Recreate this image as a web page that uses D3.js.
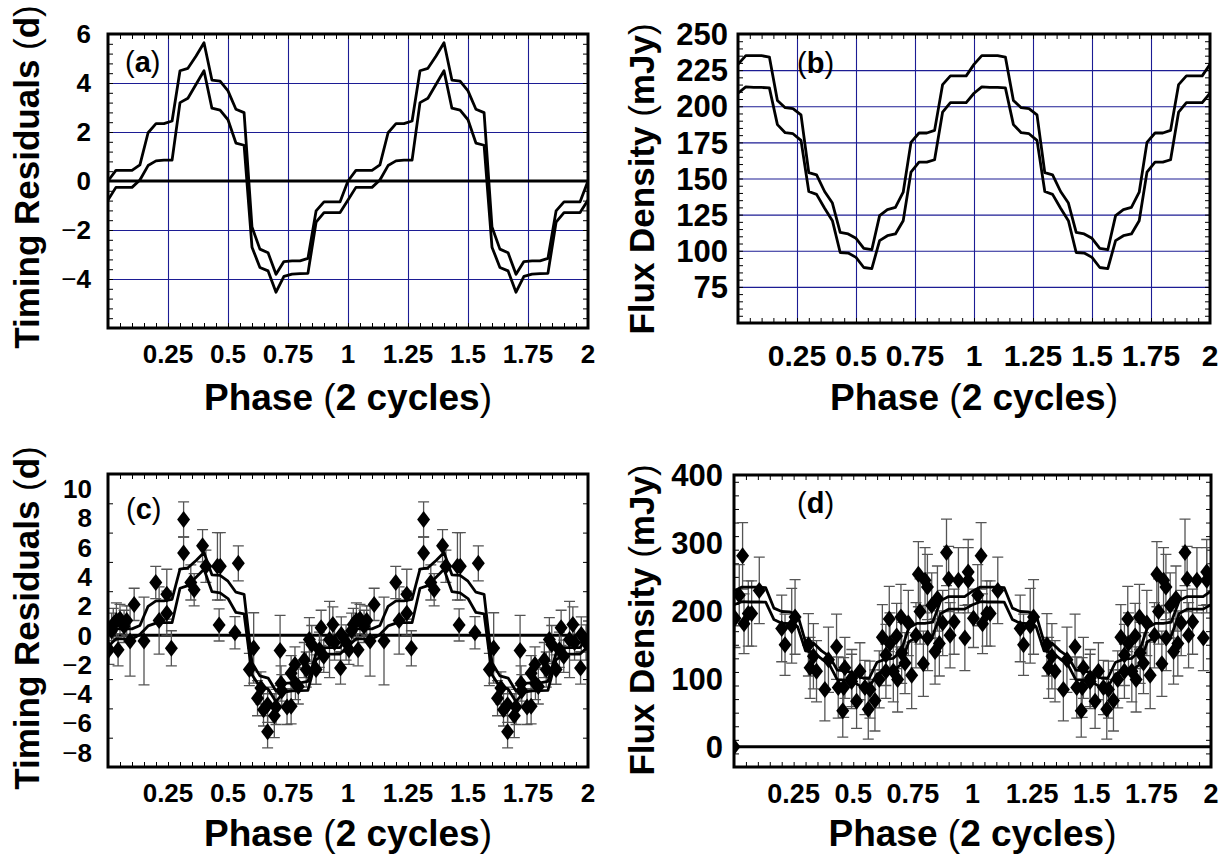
<!DOCTYPE html>
<html>
<head>
<meta charset="utf-8">
<script src="https://cdn.jsdelivr.net/npm/d3@7"></script>
<style>
  body { margin: 0; background: #fff; }
  text { font-family: "Liberation Sans", Arial, sans-serif; font-weight: bold; fill: #000; }
  .domain { display: none; }
</style>
</head>
<body>
<svg id="fig" width="1221" height="856"></svg>
<script>
// model curves, one cycle (drawn twice)
const modelPhase = [0, 0.033, 0.067, 0.1, 0.133, 0.167, 0.2, 0.233, 0.267, 0.3, 0.333,
  0.367, 0.4, 0.433, 0.467, 0.5, 0.533, 0.567, 0.6, 0.633, 0.667, 0.7, 0.733, 0.767,
  0.8, 0.833, 0.867, 0.9, 0.933, 0.967, 1.0];
const timingUpper = [0.0, 0.43, 0.43, 0.43, 0.66, 1.97, 2.34, 2.34, 2.45, 4.5, 4.6,
  5.1, 5.64, 4.12, 4.08, 3.68, 2.93, 2.79, -1.88, -2.78, -2.93, -3.81, -3.29, -3.26,
  -3.26, -3.16, -1.22, -0.85, -0.85, -0.85, 0.0];
const timingLower = [-0.78, -0.26, -0.26, -0.26, 0.04, 0.63, 0.82, 0.85, 0.85, 3.2, 3.38,
  3.95, 4.5, 2.97, 2.89, 2.5, 1.55, 1.46, -2.7, -3.53, -3.67, -4.54, -3.89, -3.8,
  -3.78, -3.77, -1.68, -1.29, -1.29, -1.29, -0.78];
const fluxUpper = [229, 235, 235, 235, 234, 204, 199, 198.4, 194, 154, 152.5,
  141, 133, 112.7, 111.6, 108.6, 101.6, 100.7, 124.3, 128.5, 130, 140.5, 175, 181.5,
  181.5, 183.3, 215, 221, 221, 221, 229];
const fluxLower = [209, 213.4, 213, 213, 212.7, 187.3, 181.7, 181, 176.4, 141, 139,
  129.4, 120.8, 98.8, 98.4, 95.4, 88.4, 87.7, 107, 110.4, 111.6, 120.8, 154.4, 161.3,
  161.3, 163, 196, 202.5, 202.5, 202.5, 209];

// observed timing residuals, one cycle
const timingObsPhase = [0.004, 0.015, 0.022, 0.035, 0.042, 0.05, 0.067, 0.078, 0.092, 0.109,
  0.15, 0.199, 0.213, 0.245, 0.245, 0.264, 0.315, 0.315, 0.345, 0.359,
  0.394, 0.408, 0.456, 0.468, 0.463, 0.529, 0.543, 0.589, 0.607, 0.623,
  0.637, 0.648, 0.665, 0.665, 0.693, 0.7, 0.717, 0.721, 0.724, 0.746,
  0.763, 0.763, 0.779, 0.781, 0.793, 0.818, 0.826, 0.839, 0.849, 0.867,
  0.881, 0.888, 0.899, 0.923, 0.937, 0.944, 0.969, 0.972, 0.992];
const timingObsValue = [-1.0, 0.3, 0.73, 1.0, -1.0, 1.1, 0.6, 1.0, -0.4, 2.1,
  -0.4, 3.6, 1.0, 2.8, 1.5, -0.9, 7.9, 5.6, 3.6, 3.1,
  6.1, 4.7, 4.7, 4.7, 0.7, 0.16, 4.9, -2.35, -0.87, -4.3,
  -3.6, -5.1, -4.75, -6.6, -5.5, -4.9, -1.05, -3.3, -3.8, -4.9,
  -4.86, -2.6, -2.0, -3.3, -3.5, -1.7, -2.35, -0.3, -0.64, -2.35,
  -1.0, 0.5, -1.44, -0.3, 0.73, -0.5, -2.24, 0.05, -0.5];
const timingObsErr = [1.0, 1.2, 1.1, 1.2, 1.1, 1.0, 1.1, 1.0, 2.4, 1.1,
  3.0, 1.1, 2.3, 1.7, 1.5, 1.2, 1.2, 1.1, 1.2, 1.1,
  1.1, 1.1, 2.3, 2.3, 1.1, 1.1, 1.2, 1.1, 2.4, 1.2,
  1.1, 1.1, 1.2, 1.1, 1.5, 1.2, 2.4, 1.2, 1.1, 1.2,
  1.2, 1.2, 1.2, 1.1, 1.2, 1.2, 1.2, 1.5, 1.3, 1.0,
  1.2, 1.2, 1.1, 2.6, 1.2, 1.2, 1.1, 1.2, 1.2];

// observed flux density, one cycle
const fluxObsPhase = [0.004, 0.022, 0.036, 0.042, 0.06, 0.074, 0.106, 0.2, 0.214, 0.242,
  0.256, 0.312, 0.319, 0.333, 0.346, 0.381, 0.396, 0.43, 0.437, 0.456,
  0.46, 0.465, 0.493, 0.494, 0.514, 0.528, 0.549, 0.563, 0.57, 0.591,
  0.609, 0.622, 0.637, 0.637, 0.651, 0.654, 0.668, 0.682, 0.686, 0.7,
  0.703, 0.717, 0.731, 0.745, 0.763, 0.773, 0.78, 0.794, 0.801, 0.811,
  0.812, 0.829, 0.843, 0.853, 0.861, 0.875, 0.891, 0.9, 0.906, 0.923,
  0.941, 0.968, 0.982, 0.982];
const fluxObsValue = [189, 223, 281, 181, 196, 196, 230, 174, 150, 178,
  191, 150, 116, 133, 111, 84, 128, 147, 87, 53,
  87, 116, 96, 101, 67, 111, 87, 55, 84, 68,
  99, 161, 135, 111, 188, 152, 111, 163, 99, 191,
  138, 123, 182, 105, 164, 254, 199, 122, 245, 235,
  160, 208, 140, 218, 152, 182, 286, 247, 164, 184,
  245, 160, 257, 245];
const fluxObsErr = [43, 45, 49, 44, 48, 48, 49, 49, 45, 55,
  55, 46, 45, 48, 45, 46, 48, 48, 45, 39,
  44, 45, 40, 42, 40, 42, 40, 44, 42, 45,
  42, 48, 45, 40, 48, 45, 45, 48, 48, 48,
  45, 45, 48, 49, 48, 48, 48, 48, 48, 48,
  48, 48, 48, 48, 48, 48, 49, 48, 48, 48,
  48, 48, 48, 48];
const fluxEdgePoint = { phase: 0, value: 0 };

const phaseTicks = [0.25, 0.5, 0.75, 1, 1.25, 1.5, 1.75, 2];
const phaseTickLabels = ["0.25", "0.5", "0.75", "1", "1.25", "1.5", "1.75", "2"];
const ticksA = [6, 4, 2, 0, -2, -4];
const ticksB = [250, 225, 200, 175, 150, 125, 100, 75];
const ticksC = [10, 8, 6, 4, 2, 0, -2, -4, -6, -8];
const ticksD = [400, 300, 200, 100, 0];

const svg = d3.select("#fig");

// repeat a one-cycle series over two cycles
function twoCycles(phases, values) {
  const out = [];
  [0, 1].forEach(c => {
    phases.forEach((p, i) => {
      if (c === 1 && i === 0) return;
      out.push({ x: p + c, y: values[i] });
    });
  });
  return out;
}

function obsTwoCycles(phases, values, errs) {
  const out = [];
  [0, 1].forEach(c => phases.forEach((p, i) => out.push({ x: p + c, y: values[i], e: errs[i] })));
  return out;
}

function drawPanel(cfg) {
  const x = d3.scaleLinear().domain([0, 2]).range([cfg.left, cfg.right]);
  const y = d3.scaleLinear().domain(cfg.yDomain).range([cfg.bottom, cfg.top]);
  const w = cfg.right - cfg.left, h = cfg.bottom - cfg.top;
  const g = svg.append("g");

  const clipId = "clip-" + cfg.id;
  g.append("clipPath").attr("id", clipId).append("rect")
    .attr("x", cfg.left).attr("y", cfg.top).attr("width", w).attr("height", h);

  if (cfg.grid) {
    g.append("g").attr("transform", `translate(0,${cfg.bottom})`)
      .call(d3.axisBottom(x).tickValues(phaseTicks.slice(0, 7)).tickSize(-h).tickFormat(""))
      .call(s => s.selectAll("line").attr("stroke", "#1c1c94").attr("stroke-width", 1.1));
    g.append("g").attr("transform", `translate(${cfg.left},0)`)
      .call(d3.axisLeft(y).tickValues(cfg.yTicks.filter(v => v !== 0 || !cfg.zeroLine)).tickSize(-w).tickFormat(""))
      .call(s => s.selectAll("line").attr("stroke", "#1c1c94").attr("stroke-width", 1.1));
  }

  // minor ticks on all four sides
  const xMinor = d3.range(0.05, 2, 0.05);
  const yMinor = d3.range(cfg.yDomain[0], cfg.yDomain[1] + 1e-9, cfg.yMinor);
  const tickStyle = s => s.selectAll("line").attr("stroke", "#000").attr("stroke-width", 1);
  g.append("g").attr("transform", `translate(0,${cfg.bottom})`)
    .call(d3.axisBottom(x).tickValues(xMinor).tickSize(-5).tickFormat("")).call(tickStyle);
  g.append("g").attr("transform", `translate(0,${cfg.top})`)
    .call(d3.axisTop(x).tickValues(xMinor).tickSize(-5).tickFormat("")).call(tickStyle);
  g.append("g").attr("transform", `translate(${cfg.left},0)`)
    .call(d3.axisLeft(y).tickValues(yMinor).tickSize(-5).tickFormat("")).call(tickStyle);
  g.append("g").attr("transform", `translate(${cfg.right},0)`)
    .call(d3.axisRight(y).tickValues(yMinor).tickSize(-5).tickFormat("")).call(tickStyle);

  // zero line
  if (cfg.zeroLine) {
    g.append("line").attr("x1", cfg.left).attr("x2", cfg.right)
      .attr("y1", y(0)).attr("y2", y(0)).attr("stroke", "#000").attr("stroke-width", 3);
  }

  const plot = g.append("g").attr("clip-path", `url(#${clipId})`);

  // error bars
  if (cfg.obs) {
    const eb = plot.append("g").attr("stroke", "#555").attr("stroke-width", 1.3).attr("fill", "none");
    eb.selectAll("path").data(cfg.obs).join("path")
      .attr("d", d => {
        const cx = x(d.x), y1 = y(d.y + d.e), y2 = y(d.y - d.e), c = 5.5;
        return `M${cx},${y1}V${y2}M${cx - c},${y1}H${cx + c}M${cx - c},${y2}H${cx + c}`;
      });
  }

  // model curves
  const line = d3.line().x(d => x(d.x)).y(d => y(d.y));
  cfg.curves.forEach(c => {
    plot.append("path").datum(c).attr("d", line)
      .attr("fill", "none").attr("stroke", "#000").attr("stroke-width", 2.8)
      .attr("stroke-linejoin", "round");
  });

  // diamonds
  if (cfg.obs) {
    const pts = cfg.obs.concat(cfg.extra || []);
    const hw = cfg.dw, hh = cfg.dh;
    plot.append("g").selectAll("path").data(pts).join("path")
      .attr("d", d => {
        const cx = x(d.x), cy = y(d.y);
        return `M${cx},${cy - hh}L${cx + hw},${cy}L${cx},${cy + hh}L${cx - hw},${cy}Z`;
      })
      .attr("fill", "#000");
  }

  // frame
  g.append("rect").attr("x", cfg.left).attr("y", cfg.top).attr("width", w).attr("height", h)
    .attr("fill", "none").attr("stroke", "#000").attr("stroke-width", 3);

  // x tick labels
  g.append("g").selectAll("text").data(phaseTicks).join("text")
    .attr("x", d => x(d)).attr("y", cfg.xLabelY)
    .attr("text-anchor", "middle").attr("font-size", cfg.xTickFont)
    .text((d, i) => phaseTickLabels[i]);

  // y tick labels
  const yl = g.append("g").selectAll("text").data(cfg.yTicks).join("text")
    .attr("x", cfg.left - cfg.yLabelGap).attr("y", d => y(d))
    .attr("dy", "0.36em").attr("text-anchor", "end").attr("font-size", cfg.yTickFont);
  yl.each(function (d) {
    const t = d3.select(this);
    if (d < 0) {
      t.append("tspan").attr("font-weight", "normal").text("\u2212");
      t.append("tspan").text(Math.abs(d));
    } else {
      t.text(d);
    }
  });

  // panel letter
  const pl = g.append("text").attr("x", cfg.letterX).attr("y", cfg.letterY).attr("font-size", 29);
  pl.append("tspan").attr("font-weight", "normal").text("(");
  pl.append("tspan").text(cfg.letter);
  pl.append("tspan").attr("font-weight", "normal").text(")");

  // axis titles
  const xt = g.append("text").attr("x", (cfg.left + cfg.right) / 2).attr("y", cfg.xTitleY)
    .attr("text-anchor", "middle").attr("font-size", 37);
  xt.append("tspan").text("Phase ");
  xt.append("tspan").attr("font-weight", "normal").text("(");
  xt.append("tspan").text("2 cycles");
  xt.append("tspan").attr("font-weight", "normal").text(")");

  const yt = g.append("text")
    .attr("transform", `translate(${cfg.yTitleX},${cfg.yTitleC}) rotate(-90)`)
    .attr("text-anchor", "middle").attr("font-size", 35);
  yt.append("tspan").text(cfg.yTitle[0] + " ");
  yt.append("tspan").attr("font-weight", "normal").text("(");
  yt.append("tspan").text(cfg.yTitle[1]);
  yt.append("tspan").attr("font-weight", "normal").text(")");
}

const timingCurves = [twoCycles(modelPhase, timingUpper), twoCycles(modelPhase, timingLower)];
const fluxCurves = [twoCycles(modelPhase, fluxUpper), twoCycles(modelPhase, fluxLower)];

drawPanel({
  id: "a", left: 108, right: 588, top: 34, bottom: 328, yDomain: [-6, 6], yTicks: ticksA,
  yMinor: 0.4, grid: true, zeroLine: true, curves: timingCurves,
  xLabelY: 363, yLabelGap: 17, xTickFont: 26, yTickFont: 26, letter: "a", letterX: 125, letterY: 72,
  xTitleY: 410, yTitleX: 39, yTitleC: 177, yTitle: ["Timing Residuals", "d"]
});
drawPanel({
  id: "b", left: 738, right: 1210, top: 34, bottom: 323, yDomain: [50, 250], yTicks: ticksB,
  yMinor: 5, grid: true, zeroLine: false, curves: fluxCurves,
  xLabelY: 366, yLabelGap: 10, xTickFont: 30, yTickFont: 31, letter: "b", letterX: 797, letterY: 73,
  xTitleY: 410, yTitleX: 654, yTitleC: 179, yTitle: ["Flux Density", "mJy"]
});
drawPanel({
  id: "c", left: 108, right: 588, top: 474, bottom: 767, yDomain: [-9, 11], yTicks: ticksC,
  yMinor: 2, grid: false, zeroLine: true, curves: timingCurves,
  obs: obsTwoCycles(timingObsPhase, timingObsValue, timingObsErr), dw: 6.5, dh: 8.5,
  xLabelY: 802, yLabelGap: 16, xTickFont: 26, yTickFont: 26, letter: "c", letterX: 126, letterY: 519,
  xTitleY: 846, yTitleX: 39, yTitleC: 618, yTitle: ["Timing Residuals", "d"]
});
drawPanel({
  id: "d", left: 734, right: 1211, top: 475, bottom: 767, yDomain: [-30, 400], yTicks: ticksD,
  yMinor: 20, grid: false, zeroLine: true, curves: fluxCurves,
  obs: obsTwoCycles(fluxObsPhase, fluxObsValue, fluxObsErr), dw: 6.5, dh: 8.5,
  extra: [{ x: fluxEdgePoint.phase, y: fluxEdgePoint.value }],
  xLabelY: 803, yLabelGap: 11, xTickFont: 27, yTickFont: 31, letter: "d", letterX: 797, letterY: 513,
  xTitleY: 846, yTitleX: 654, yTitleC: 620, yTitle: ["Flux Density", "mJy"]
});
</script>
</body>
</html>
